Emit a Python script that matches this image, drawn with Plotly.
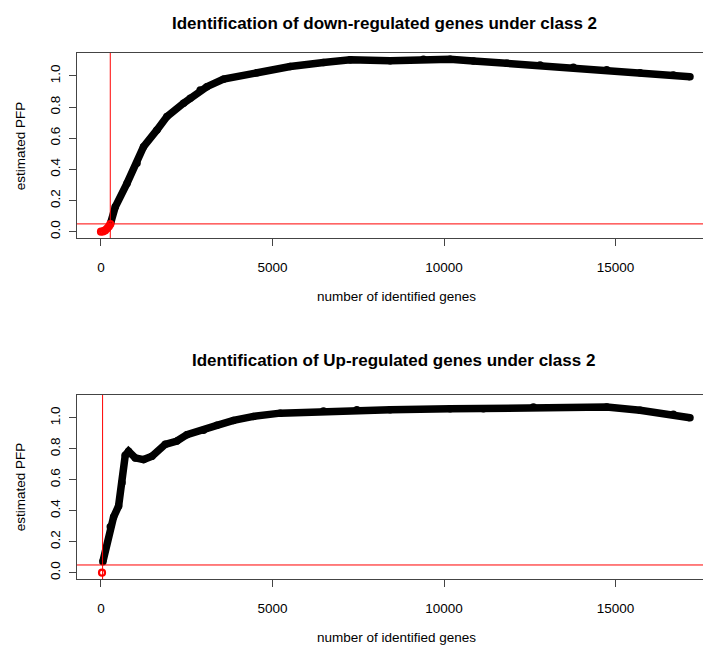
import plotly.graph_objects as go

# ---------------- data ----------------
down_black_x = [280, 417, 758, 1049, 1241, 1632, 1923, 2407, 2602, 2893, 3088, 3573,
                4545, 5516, 6486, 7264, 8430, 9400, 10178, 10857, 11830, 12800,
                13770, 14743, 15714, 16684, 17170]
down_black_y = [0.054, 0.16, 0.31, 0.44, 0.546, 0.653, 0.739, 0.825, 0.857, 0.91, 0.931, 0.979,
                1.021, 1.06, 1.086, 1.103, 1.098, 1.107, 1.107, 1.096, 1.081, 1.07,
                1.056, 1.039, 1.021, 1.006, 0.995]
down_red_x = [0, 60, 120, 180, 230, 271]
down_red_y = [0.0, 0.002, 0.008, 0.02, 0.033, 0.048]
down_vline = 271

up_black_x = [55, 271, 368, 513, 612, 708, 804, 999, 1241, 1486, 1874, 2214, 2506,
              2990, 3380, 3864, 4446, 5224, 6486, 7459, 8430, 10178, 11148, 12605,
              14743, 15714, 16684, 17170]
up_black_y = [0.071, 0.296, 0.36, 0.43, 0.58, 0.758, 0.784, 0.741, 0.730, 0.751, 0.829, 0.85, 0.891,
              0.919, 0.951, 0.983, 1.009, 1.03, 1.043, 1.052, 1.052, 1.058, 1.058, 1.069,
              1.069, 1.048, 1.022, 1.0]
up_red_x = [30]
up_red_y = [0.0]
up_vline = 47

pfp_threshold = 0.05

x_ticks = [0, 5000, 10000, 15000]
y_ticks = [0.0, 0.2, 0.4, 0.6, 0.8, 1.0]
y_ticklabels = ["0.0", "0.2", "0.4", "0.6", "0.8", "1.0"]

titles = ["Identification of down-regulated genes under class 2",
          "Identification of Up-regulated genes under class 2"]
x_title = "number of identified genes"
y_title = "estimated PFP"

# ---------------- layout geometry ----------------
W, H = 703, 648
L = 76.7
PW = W - L
FONT = "Liberation Sans, Arial, sans-serif"
AX = "#444444"


def py(p):
    return 1 - p / H


def px(p):
    return (p - L) / PW


fig = go.Figure()

panels = [
    dict(bx=down_black_x, by=down_black_y, rx=down_red_x, ry=down_red_y, vl=down_vline,
         dom=[py(238), py(53)], xa="x", ya="y"),
    dict(bx=up_black_x, by=up_black_y, rx=up_red_x, ry=up_red_y, vl=up_vline,
         dom=[py(579), py(395)], xa="x2", ya="y2"),
]

shapes = []
for i, p in enumerate(panels):
    fig.add_trace(go.Scatter(x=p["bx"], y=p["by"], mode="lines+markers",
                             line=dict(color="black", width=7.5),
                             marker=dict(color="black", size=7.5),
                             xaxis=p["xa"], yaxis=p["ya"], showlegend=False))
    fig.add_trace(go.Scatter(x=p["rx"], y=p["ry"], mode="lines+markers",
                             line=dict(color="red", width=5),
                             marker=dict(symbol="circle-open", color="red", size=6,
                                         line=dict(width=2.2, color="red")),
                             xaxis=p["xa"], yaxis=p["ya"], showlegend=False))
    xd = p["xa"] + " domain"
    yd = p["ya"] + " domain"
    shapes.append(dict(type="line", xref=xd, x0=0, x1=1, yref=p["ya"],
                       y0=pfp_threshold, y1=pfp_threshold,
                       line=dict(color="red", width=1)))
    shapes.append(dict(type="line", xref=p["xa"], x0=p["vl"], x1=p["vl"], yref=yd,
                       y0=0, y1=1, line=dict(color="red", width=1)))

axis_common_x = dict(range=[-699, 17549], tickmode="array", tickvals=x_ticks,
                     ticktext=[str(v) for v in x_ticks], ticks="outside", ticklen=7,
                     tickcolor=AX, showline=True, linecolor=AX, mirror=True,
                     showgrid=False, zeroline=False, domain=[0, 1],
                     ticklabelstandoff=10,
                     tickfont=dict(family=FONT, size=13.5, color="black"))
axis_common_y = dict(range=[-0.0405, 1.147], tickmode="array", tickvals=y_ticks,
                     ticktext=y_ticklabels, ticks="outside", ticklen=7, tickangle=-90,
                     tickcolor=AX, showline=True, linecolor=AX, mirror=False,
                     showgrid=False, zeroline=False, ticklabelstandoff=4,
                     tickfont=dict(family=FONT, size=13.5, color="black"))

fig.update_layout(
    width=W, height=H,
    margin=dict(l=L, r=0, t=0, b=0),
    paper_bgcolor="white", plot_bgcolor="white",
    xaxis=dict(axis_common_x, anchor="y"),
    yaxis=dict(axis_common_y, domain=panels[0]["dom"], anchor="x"),
    xaxis2=dict(axis_common_x, anchor="y2"),
    yaxis2=dict(axis_common_y, domain=panels[1]["dom"], anchor="x2"),
    shapes=shapes,
)

annotations = []
title_centers = [(384, 24), (393, 360)]
xt_y = [297, 637]
yt_y = [146, 487]
for i in range(2):
    annotations.append(dict(text="<b>%s</b>" % titles[i], xref="paper", yref="paper",
                            x=px(title_centers[i][0]), y=py(title_centers[i][1]),
                            showarrow=False, xanchor="center", yanchor="middle",
                            font=dict(family=FONT, size=17, color="black")))
    annotations.append(dict(text=x_title, xref="paper", yref="paper",
                            x=px(396), y=py(xt_y[i]), showarrow=False,
                            xanchor="center", yanchor="middle",
                            font=dict(family=FONT, size=13.5, color="black")))
    annotations.append(dict(text=y_title, xref="paper", yref="paper",
                            x=px(20), y=py(yt_y[i]), showarrow=False, textangle=-90,
                            xanchor="center", yanchor="middle",
                            font=dict(family=FONT, size=13.5, color="black")))
fig.update_layout(annotations=annotations)

fig.write_html("out.html", config={"displayModeBar": False},
               post_script="document.body.style.margin='0px';"
                           "document.body.style.overflow='hidden';")
